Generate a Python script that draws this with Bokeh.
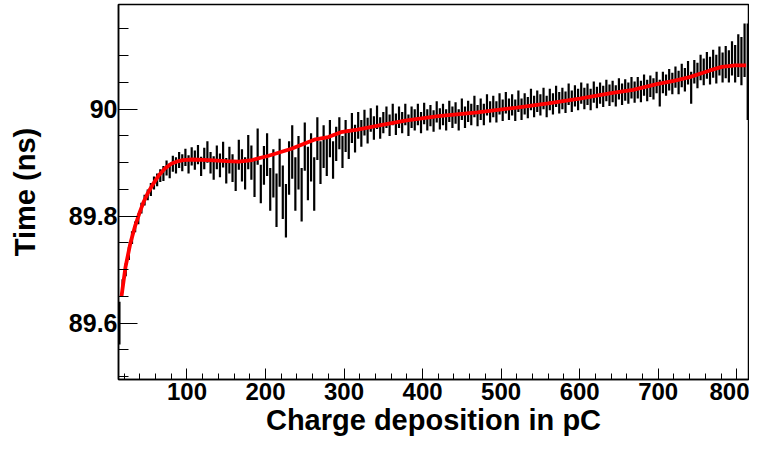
from bokeh.plotting import figure
from bokeh.models import FixedTicker, Range1d, ColumnDataSource
from bokeh.embed import file_html
from bokeh.resources import INLINE

# ---- data ----
charge = [14, 18, 22, 26, 30, 34, 38, 42, 46, 50, 54, 58, 62, 66, 70, 74, 78, 82, 86, 90,
          94, 98, 102, 106, 110, 114, 118, 122, 126, 130, 134, 138, 142, 146, 150, 154, 158, 162, 166, 170,
          174, 178, 182, 186, 190, 194, 198, 202, 206, 210, 214, 218, 222, 226, 230, 234, 238, 242, 246, 250,
          254, 258, 262, 266, 270, 274, 278, 282, 286, 290, 294, 298, 302, 306, 310, 314, 318, 322, 326, 330,
          334, 338, 342, 346, 350, 354, 358, 362, 366, 370, 374, 378, 382, 386, 390, 394, 398, 402, 406, 410,
          414, 418, 422, 426, 430, 434, 438, 442, 446, 450, 454, 458, 462, 466, 470, 474, 478, 482, 486, 490,
          494, 498, 502, 506, 510, 514, 518, 522, 526, 530, 534, 538, 542, 546, 550, 554, 558, 562, 566, 570,
          574, 578, 582, 586, 590, 594, 598, 602, 606, 610, 614, 618, 622, 626, 630, 634, 638, 642, 646, 650,
          654, 658, 662, 666, 670, 674, 678, 682, 686, 690, 694, 698, 702, 706, 710, 714, 718, 722, 726, 730,
          734, 738, 742, 746, 750, 754, 758, 762, 766, 770, 774, 778, 782, 786, 790, 794, 798, 802, 806, 810,
          814]
time_mean = [89.60, 89.67, 89.70, 89.73, 89.76, 89.78, 89.795, 89.815, 89.83, 89.84,
             89.85, 89.862, 89.868, 89.876, 89.88, 89.89, 89.885, 89.898, 89.895, 89.905,
             89.90, 89.91, 89.897, 89.912, 89.905, 89.915, 89.893, 89.908, 89.92, 89.90,
             89.89, 89.91, 89.895, 89.915, 89.885, 89.905, 89.89, 89.875, 89.915, 89.895,
             89.88, 89.92, 89.90, 89.87, 89.93, 89.86, 89.895, 89.915, 89.85, 89.88,
             89.83, 89.90, 89.845, 89.81, 89.89, 89.92, 89.86, 89.90, 89.84, 89.93,
             89.88, 89.91, 89.86, 89.945, 89.90, 89.93, 89.91, 89.945, 89.905, 89.935,
             89.955, 89.92, 89.95, 89.935, 89.965, 89.945, 89.97, 89.955, 89.975, 89.96,
             89.98, 89.965, 89.985, 89.965, 89.975, 89.985, 89.97, 89.99, 89.972, 89.985,
             89.975, 89.99, 89.97, 89.985, 89.98, 89.99, 89.975, 89.992, 89.98, 89.988,
             89.978, 89.995, 89.982, 89.99, 89.98, 89.996, 89.985, 89.993, 89.98, 90.0,
             89.985, 89.996, 89.99, 90.005, 89.988, 90.0, 89.99, 90.008, 89.995, 90.005,
             89.995, 90.01, 89.998, 90.012, 90.0, 90.008, 89.998, 90.015, 90.0, 90.01,
             90.003, 90.018, 90.005, 90.015, 90.008, 90.02, 90.005, 90.018, 90.01, 90.024,
             90.012, 90.02, 90.013, 90.028, 90.015, 90.025, 90.018, 90.03, 90.02, 90.028,
             90.018, 90.032, 90.022, 90.03, 90.024, 90.035, 90.026, 90.033, 90.025, 90.038,
             90.028, 90.036, 90.03, 90.04, 90.032, 90.04, 90.033, 90.045, 90.035, 90.043,
             90.038, 90.05, 90.03, 90.05, 90.045, 90.055, 90.048, 90.06, 90.05, 90.063,
             90.055, 90.068, 90.04, 90.07, 90.063, 90.078, 90.07, 90.082, 90.072, 90.085,
             90.075, 90.09, 90.078, 90.088, 90.08, 90.095, 90.085, 90.10, 90.09, 90.11,
             90.07]
time_err = [0.04, 0.012, 0.012, 0.012, 0.012, 0.01, 0.01, 0.01, 0.01, 0.01,
            0.012, 0.012, 0.012, 0.012, 0.014, 0.014, 0.014, 0.015, 0.015, 0.015,
            0.016, 0.016, 0.017, 0.017, 0.018, 0.018, 0.018, 0.02, 0.02, 0.02,
            0.022, 0.022, 0.022, 0.024, 0.024, 0.025, 0.026, 0.028, 0.028, 0.03,
            0.03, 0.032, 0.032, 0.034, 0.034, 0.036, 0.036, 0.04, 0.04, 0.045,
            0.05, 0.045, 0.05, 0.05, 0.05, 0.05, 0.05, 0.05, 0.05, 0.045,
            0.05, 0.045, 0.05, 0.04, 0.04, 0.04, 0.035, 0.035, 0.035, 0.032,
            0.03, 0.03, 0.03, 0.028, 0.028, 0.026, 0.025, 0.025, 0.024, 0.024,
            0.022, 0.022, 0.022, 0.02, 0.02, 0.02, 0.02, 0.02, 0.02, 0.02,
            0.02, 0.02, 0.02, 0.02, 0.02, 0.02, 0.02, 0.02, 0.02, 0.02,
            0.02, 0.02, 0.02, 0.02, 0.02, 0.02, 0.02, 0.02, 0.02, 0.02,
            0.02, 0.02, 0.02, 0.02, 0.02, 0.02, 0.02, 0.02, 0.02, 0.02,
            0.02, 0.02, 0.02, 0.02, 0.02, 0.02, 0.02, 0.02, 0.02, 0.02,
            0.02, 0.02, 0.02, 0.02, 0.02, 0.02, 0.02, 0.02, 0.02, 0.02,
            0.02, 0.02, 0.02, 0.02, 0.02, 0.02, 0.02, 0.02, 0.02, 0.02,
            0.02, 0.02, 0.02, 0.02, 0.02, 0.02, 0.02, 0.02, 0.02, 0.02,
            0.02, 0.02, 0.02, 0.02, 0.02, 0.02, 0.02, 0.02, 0.02, 0.02,
            0.02, 0.02, 0.025, 0.02, 0.02, 0.02, 0.02, 0.02, 0.022, 0.022,
            0.022, 0.022, 0.03, 0.022, 0.024, 0.024, 0.025, 0.025, 0.026, 0.026,
            0.027, 0.027, 0.028, 0.03, 0.03, 0.032, 0.035, 0.04, 0.045, 0.05,
            0.09]

fit_charge = [16.6, 21.7, 28, 34.2, 40, 44.6, 50, 57.2, 64, 71.9, 80, 86.6, 95, 107, 128,
              150, 166, 183, 204, 233, 262, 280, 296, 317, 350, 380, 420, 470, 520, 560,
              600, 640, 668, 698, 720, 740, 765, 781, 798, 812]
fit_time = [89.65, 89.705, 89.75, 89.783, 89.808, 89.826, 89.843, 89.861, 89.876, 89.889,
            89.898, 89.902, 89.905, 89.906, 89.905, 89.903, 89.902, 89.905, 89.913, 89.926,
            89.943, 89.948, 89.957, 89.962, 89.971, 89.979, 89.987, 89.994, 90.003, 90.011,
            90.020, 90.030, 90.036, 90.047, 90.053, 90.060, 90.072, 90.079, 90.082, 90.082]

x_major = [100, 200, 300, 400, 500, 600, 700, 800]
x_minor = [20, 40, 60, 80, 120, 140, 160, 180, 220, 240, 260, 280, 320, 340, 360, 380,
           420, 440, 460, 480, 520, 540, 560, 580, 620, 640, 660, 680, 720, 740, 760, 780]
y_major = [89.6, 89.8, 90.0]
y_minor = [89.5, 89.55, 89.65, 89.7, 89.75, 89.85, 89.9, 89.95, 90.05, 90.1, 90.15]
y_labels = {89.6: "89.6", 89.8: "89.8", 90.0: "90"}

lo = [m - e for m, e in zip(time_mean, time_err)]
hi = [m + e for m, e in zip(time_mean, time_err)]
src = ColumnDataSource(dict(x=charge, lo=lo, hi=hi, y=time_mean))

p = figure(width=749, height=443, output_backend="svg", toolbar_location=None,
           x_range=Range1d(12.8, 815), y_range=Range1d(89.4948, 90.1957),
           min_border_left=118, min_border_right=1, min_border_top=4, min_border_bottom=64)

p.segment(x0="x", y0="lo", x1="x", y1="hi", source=src, line_color="black", line_width=2.2)
p.line(fit_charge, fit_time, line_color="#ff0000", line_width=3.8)

p.xgrid.visible = False
p.ygrid.visible = False
p.outline_line_color = "black"
p.outline_line_width = 1.5
p.background_fill_color = "white"
p.border_fill_color = "white"

font = "Liberation Sans"
for ax in (p.xaxis[0], p.yaxis[0]):
    ax.axis_line_color = "black"
    ax.axis_line_width = 1.5
    ax.major_tick_line_color = "black"
    ax.minor_tick_line_color = "black"
    ax.major_tick_out = 0
    ax.minor_tick_out = 0
    ax.major_label_text_font = font
    ax.major_label_text_font_style = "bold"
    ax.major_label_text_color = "black"
    ax.axis_label_text_font = font
    ax.axis_label_text_font_style = "bold"
    ax.axis_label_text_font_size = "29px"
    ax.axis_label_text_color = "black"

p.xaxis.major_label_text_font_size = "24px"
p.yaxis.major_label_text_font_size = "25px"
p.xaxis.ticker = FixedTicker(ticks=x_major, minor_ticks=x_minor)
p.yaxis.ticker = FixedTicker(ticks=y_major, minor_ticks=y_minor)
p.yaxis.major_label_overrides = y_labels

p.xaxis.major_tick_in = 11
p.xaxis.minor_tick_in = 6
p.yaxis.major_tick_in = 19
p.yaxis.minor_tick_in = 10

p.xaxis.axis_label = "Charge deposition in pC"
p.yaxis.axis_label = "Time (ns)"
p.xaxis.major_label_standoff = 3
p.yaxis.major_label_standoff = 1
p.xaxis.axis_label_standoff = 1
p.yaxis.axis_label_standoff = 25

open("out.html", "w").write(file_html(p, INLINE))
